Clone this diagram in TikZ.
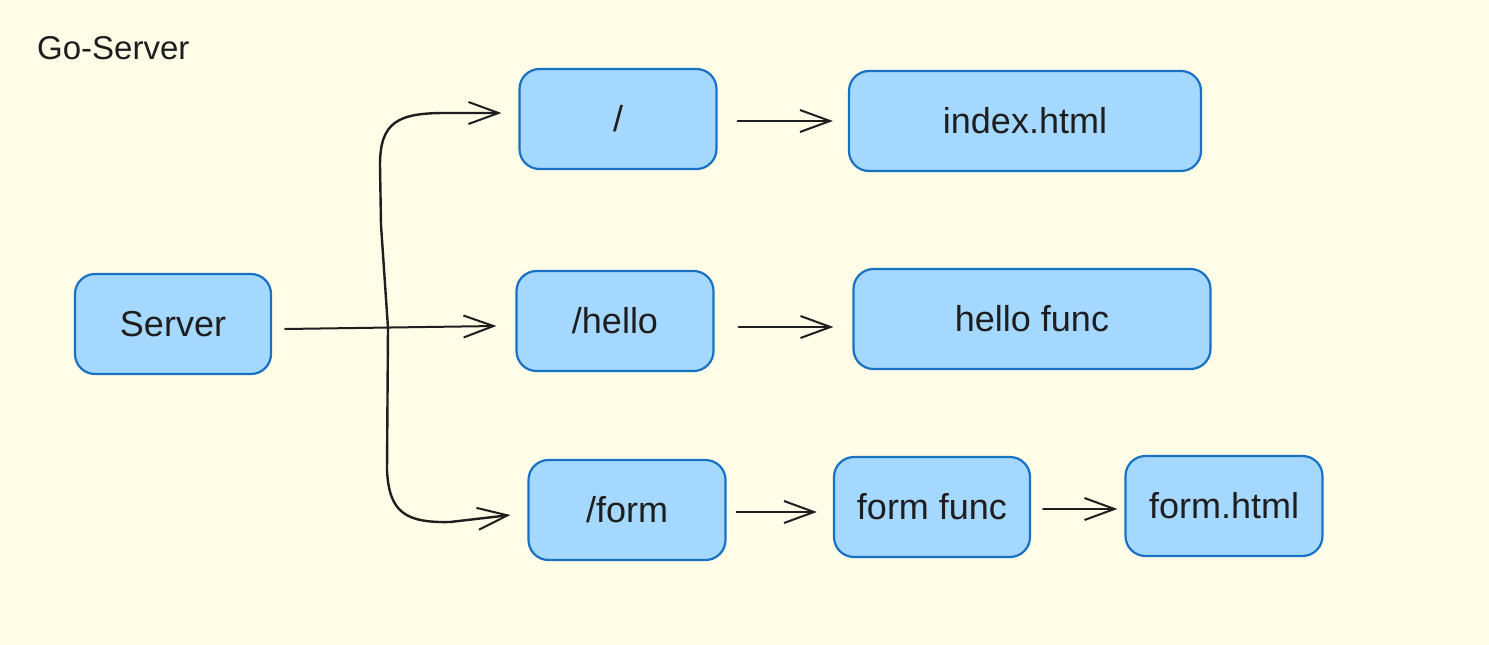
\documentclass[tikz,border=0pt]{standalone}
\usepackage{fontspec}
\setmainfont{Liberation Sans}
\usetikzlibrary{arrows.meta}
\definecolor{paper}{HTML}{FFFDE8}
\definecolor{boxfill}{HTML}{A5D8FF}
\definecolor{boxline}{HTML}{1971C2}
\definecolor{ink}{HTML}{1E1E1E}
\tikzset{
  routebox/.style={draw=boxline, fill=boxfill, line width=2.2pt, rounded corners=20pt,
    inner sep=0pt, text=ink, font=\fontsize{36}{40}\selectfont},
  arr/.style={draw=ink, line width=2pt, line cap=round, line join=round,
    -{Straight Barb[length=30pt,width=22pt,line width=2pt]}},
  branch/.style={arr, line width=2.4pt}
}
\begin{document}
\begin{tikzpicture}[x=1pt,y=-1pt]
  \fill[paper] (0,0) rectangle (1489,645);
  \useasboundingbox (0,0) rectangle (1489,645);

  % title
  \node[anchor=base west, inner sep=0pt, text=ink, font=\fontsize{33}{36}\selectfont] (title) at (37,59) {Go-Server};

  % boxes
  \node[routebox, minimum width=196pt, minimum height=100pt] (server) at (173,324) {Server};
  \node[routebox, minimum width=197pt, minimum height=100pt] (root) at (618,119) {/};
  \node[routebox, minimum width=352pt, minimum height=100pt] (index) at (1025,121) {index.html};
  \node[routebox, minimum width=197pt, minimum height=100pt] (hello) at (615,321) {/hello};
  \node[routebox, minimum width=357pt, minimum height=100pt] (hellofn) at (1032,319) {hello func};
  \node[routebox, minimum width=197pt, minimum height=100pt] (form) at (627,510) {/form};
  \node[routebox, minimum width=196pt, minimum height=100pt] (formfn) at (932,507) {form func};
  \node[routebox, minimum width=197pt, minimum height=100pt] (formhtml) at (1224,506) {form.html};

  % branch point on the trunk
  \coordinate (j) at (388,328);

  % server to the routes (yshift is on the page, so negative means lower)
  \draw[arr] ([xshift=13pt,yshift=-5pt]server.east) -- ([xshift=-19pt,yshift=-5pt]hello.west);
  \draw[branch] (j) -- (381,225) -- (380,165)
    .. controls (380,122) and (398,113) .. (445,113)
    -- ([xshift=-17pt,yshift=6pt]root.west);
  \draw[branch] (j) -- (387,470)
    .. controls (389,512) and (405,523) .. (450,522)
    -- ([xshift=-17pt,yshift=-5pt]form.west);

  % routes to handlers
  \draw[arr] ([xshift=20pt,yshift=-2pt]root.east) -- ([xshift=-15pt]index.west);
  \draw[arr] ([xshift=24pt,yshift=-6pt]hello.east) -- ([xshift=-19pt,yshift=-8pt]hellofn.west);
  \draw[arr] ([xshift=10pt,yshift=-2pt]form.east) -- ([xshift=-16pt,yshift=-5pt]formfn.west);
  \draw[arr] ([xshift=12pt,yshift=-2pt]formfn.east) -- ([xshift=-7pt,yshift=-3pt]formhtml.west);
\end{tikzpicture}
\end{document}
